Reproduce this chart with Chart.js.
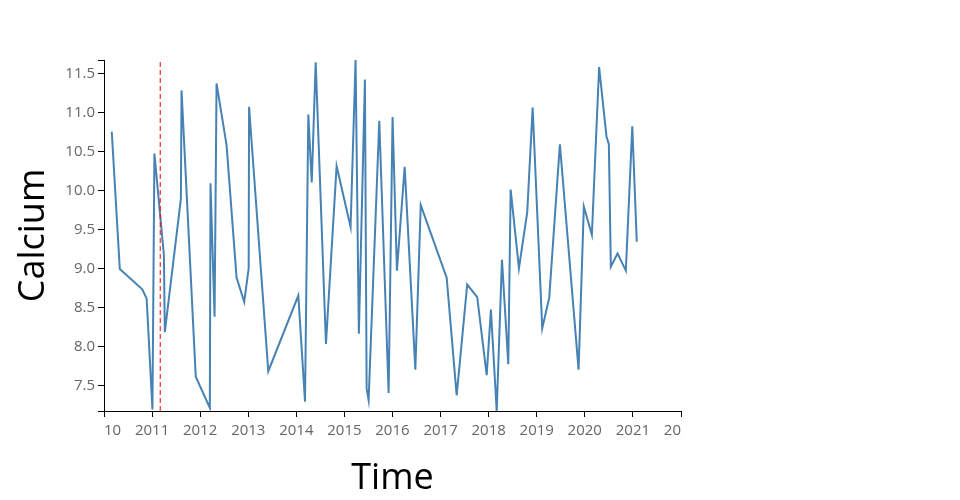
<!DOCTYPE html>
<html><head><meta charset="utf-8">
<script src="https://cdn.jsdelivr.net/npm/chart.js@4/dist/chart.umd.min.js"></script>
<style>html,body{margin:0;padding:0;background:#fff;}</style>
</head><body>
<canvas id="c" width="960" height="500"></canvas>
<script>
const dates = [
 '2010-03-01','2010-05-01','2010-10-19','2010-11-21','2011-01-04','2011-01-19','2011-04-01','2011-04-08',
 '2011-08-08','2011-08-13','2011-11-29','2012-03-15','2012-03-20','2012-04-20','2012-05-05','2012-07-20',
 '2012-10-04','2012-12-01','2013-01-04','2013-01-07','2013-06-02','2014-01-16','2014-03-08','2014-04-02',
 '2014-04-28','2014-05-28','2014-08-14','2014-11-03','2015-02-17','2015-03-27','2015-04-21','2015-06-06',
 '2015-06-19','2015-07-04','2015-09-23','2015-12-03','2016-01-02','2016-02-04','2016-04-03','2016-06-23',
 '2016-08-03','2017-02-16','2017-05-03','2017-07-22','2017-10-06','2017-12-17','2018-01-18','2018-03-03',
 '2018-04-12','2018-05-30','2018-06-17','2018-08-19','2018-10-21','2018-12-01','2019-02-12','2019-04-06',
 '2019-06-26','2019-11-15','2019-12-25','2020-02-24','2020-04-19','2020-06-14','2020-07-02','2020-07-17',
 '2020-09-06','2020-11-08','2020-12-27','2021-01-30'
];
const calcium = [
 10.75, 8.99, 8.73, 8.61, 7.19, 10.47, 9.17, 8.18,
 9.89, 11.28, 7.61, 7.21, 10.09, 8.38, 11.37, 10.58,
 8.88, 8.57, 9.00, 11.07, 7.68, 8.65, 7.29, 10.97,
 10.10, 11.64, 8.03, 10.31, 9.53, 11.67, 8.16, 11.42,
 7.46, 7.31, 10.89, 7.40, 10.94, 8.97, 10.30, 7.70,
 9.81, 8.88, 7.37, 8.79, 8.63, 7.63, 8.47, 7.17,
 9.11, 7.77, 10.01, 9.00, 9.72, 11.06, 8.23, 8.62,
 10.59, 7.70, 9.79, 9.43, 11.58, 10.69, 10.59, 9.02,
 9.19, 8.97, 10.82, 9.34
];
const markerDate = '2011-03-04';
const yearTicks = [2010,2011,2012,2013,2014,2015,2016,2017,2018,2019,2020,2021,2022];
const yTickValues = [7.5,8.0,8.5,9.0,9.5,10.0,10.5,11.0,11.5];

function ts(s){const p=s.split('-').map(Number);return Date.UTC(p[0],p[1]-1,p[2]);}
const yMin = Math.min(...calcium), yMax = Math.max(...calcium);
const FONT = "'Open Sans', sans-serif";

const clipLabels = {
  id:'clipLabels',
  afterDraw(chart){
    const {ctx, chartArea:a} = chart;
    ctx.save(); ctx.fillStyle='#fff';
    ctx.fillRect(0, a.bottom+7, a.left, 28);
    ctx.fillRect(a.right+0.5, a.bottom+7, chart.width-a.right, 28);
    ctx.restore();
  }
};

new Chart(document.getElementById('c'), {
  type:'line',
  data:{
    datasets:[
      {data:[{x:ts(markerDate),y:yMin},{x:ts(markerDate),y:yMax}], borderColor:'#ff0000', borderWidth:1, borderDash:[5,3], pointRadius:0, fill:false},
      {data:dates.map((d,i)=>({x:ts(d),y:calcium[i]})), borderColor:'#4682b4', borderWidth:2, pointRadius:0, tension:0, fill:false}
    ]
  },
  options:{
    responsive:false, animation:false, devicePixelRatio:1,
    layout:{padding:{left:0,right:279,top:60,bottom:0}},
    plugins:{legend:{display:false}, tooltip:{enabled:false}},
    scales:{
      x:{
        type:'linear', min:Date.UTC(2010,0,1), max:Date.UTC(2022,0,1),
        afterBuildTicks(s){ s.ticks = yearTicks.map(y=>({value:Date.UTC(y,0,1)})); },
        afterFit(s){ s.height = 89; },
        ticks:{autoSkip:false, maxRotation:0, padding:5, color:'#666', font:{family:FONT,size:15},
          callback:(v)=>String(new Date(v).getUTCFullYear())},
        grid:{display:true, drawOnChartArea:false, drawTicks:true, tickLength:6, color:'#000', lineWidth:1},
        border:{display:true, color:'#000', width:1},
        title:{display:true, text:'Time', color:'#000', font:{family:FONT,size:36}, padding:{top:0,bottom:0}}
      },
      y:{
        type:'linear', min:yMin, max:yMax,
        afterBuildTicks(s){ s.ticks = [yMin, ...yTickValues, yMax].map(v=>({value:v})); },
        afterFit(s){ s.width = 104; },
        ticks:{autoSkip:false, padding:3, color:'#666', font:{family:FONT,size:15},
          callback:(v)=> yTickValues.includes(v) ? v.toFixed(1) : ''},
        grid:{display:true, drawOnChartArea:false, drawTicks:true, tickLength:6, color:'#000', lineWidth:1},
        border:{display:true, color:'#000', width:1},
        title:{display:true, text:'Calcium', color:'#000', font:{family:FONT,size:36}, padding:{top:12,bottom:0}}
      }
    }
  },
  plugins:[clipLabels]
});
</script>
</body></html>
